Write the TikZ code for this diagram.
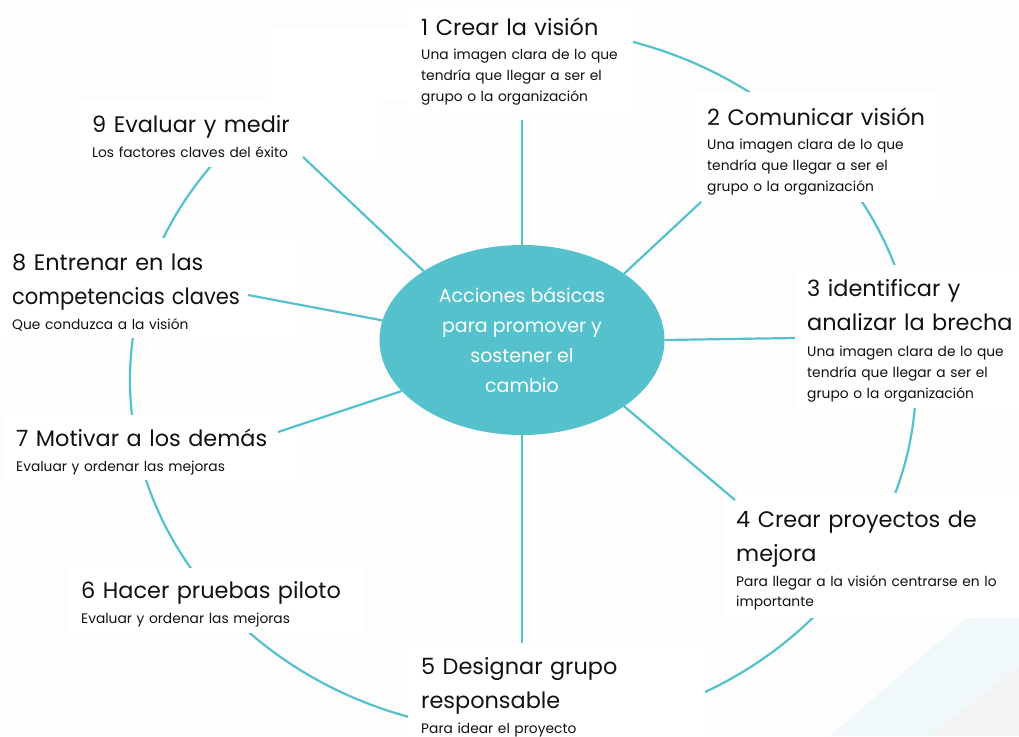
\documentclass[tikz,border=0pt]{standalone}
\usepackage{graphicx}
\usepackage{fontspec}
\setmainfont{Poppins}
\usetikzlibrary{calc,shapes.geometric}

\definecolor{teal1}{HTML}{55C1CC}
\definecolor{paper}{HTML}{FDFDFD}
\definecolor{mist}{HTML}{F0F8FA}
\definecolor{ash}{HTML}{F3F3F3}
\definecolor{ink}{HTML}{111111}

\begin{document}
\begin{tikzpicture}[x=1pt, y=-1pt,
  card/.style={fill=white, draw=none, inner sep=0pt, outer sep=0pt, anchor=north west},
  ring/.style={draw=teal1, line width=2.2pt},
  link/.style={draw=teal1, line width=2.2pt},
  head/.style={anchor=base west, inner sep=0pt, text=ink, text width=320pt, align=left,
               font=\fontsize{22.4}{34}\selectfont},
  note/.style={anchor=base west, inner sep=0pt, text=ink, text width=320pt, align=left,
               font=\fontsize{13.8}{21}\selectfont},
  hub/.style={ellipse, fill=teal1, draw=none, inner sep=0pt, outer sep=0pt,
              minimum width=285pt, minimum height=190pt, text=white, align=center,
              font=\fontsize{19}{30}\selectfont},
]
% page and its background
\useasboundingbox (0,0) rectangle (1019,736);
\fill[paper] (0,0) rectangle (1019,736);
\fill[mist] (830,736) -- (1019,573) -- (1019,736) -- cycle;
\fill[ash] (930,736) -- (1019,667) -- (1019,736) -- cycle;

% outer ring linking the steps
\draw[ring] (523,380) ellipse [x radius=393, y radius=352];

% white cards behind each step
\node[card, minimum width=225pt, minimum height=109pt] (b1) at (408,3) {};
\node[card, minimum width=242pt, minimum height=110pt] (b2) at (695,92) {};
\node[card, minimum width=224pt, minimum height=143pt] (b3) at (795,265) {};
\node[card, minimum width=294pt, minimum height=125pt] (b4) at (725,493) {};
\node[card, minimum width=297pt, minimum height=93pt]  (b5) at (408,643) {};
\node[card, minimum width=297pt, minimum height=65pt]  (b6) at (68,568) {};
\node[card, minimum width=297pt, minimum height=65pt]  (b7) at (5,415) {};
\node[card, minimum width=297pt, minimum height=100pt] (b8) at (0,238) {};
\node[card, minimum width=297pt, minimum height=67pt]  (b9) at (80,100) {};
\fill[white] (270,28) rectangle (408,100);

% central idea
\node[hub] (c) at (522,340) {Acciones básicas\\para promover y\\sostener el\\cambio};

% spokes from the centre to every step
\draw[link] (c.90) -- ($(b1.south)+(1.5,8)$);
\draw[link] (c.33.7) -- ($(b2.south west)+(6,0)$);
\draw[link] (c.0) -- ($(b3.west)+(0,1.5)$);
\draw[link] (c.-33.7) -- ($(b4.north west)+(10,7)$);
\draw[link] (c.-90) -- (c.-90 |- b5.north);
\draw[link] (c.203.5) -- ($(b7.north east)+(-24,17)$);
\draw[link] (c.172) -- ($(b8.east)+(-49,7)$);
\draw[link] (c.145.8) -- ($(b9.south east)+(-74,-10)$);

% step texts
\node[head] (t1) at (421,35) {1 Crear la visión};
\node[note] (d1) at (421,59) {Una imagen clara de lo que\\tendría que llegar a ser el\\grupo o la organización};

\node[head] (t2) at (707,125) {2 Comunicar visión};
\node[note] (d2) at (707,149) {Una imagen clara de lo que\\tendría que llegar a ser el\\grupo o la organización};

\node[head] (t3) at (807,296) {3 identificar y\\analizar la brecha};
\node[note] (d3) at (807,356) {Una imagen clara de lo que\\tendría que llegar a ser el\\grupo o la organización};

\node[head] (t4) at (736,527) {4 Crear proyectos de\\mejora};
\node[note, font=\fontsize{13.8}{20}\selectfont] (d4) at (736,586) {Para llegar a la visión centrarse en lo\\importante};

\node[head] (t5) at (421,674) {5 Designar grupo\\responsable};
\node[note] (d5) at (421,733) {Para idear el proyecto};

\node[head] (t6) at (81,598) {6 Hacer pruebas piloto};
\node[note] (d6) at (81,623) {Evaluar y ordenar las mejoras};

\node[head] (t7) at (16,446) {7 Motivar a los demás};
\node[note] (d7) at (16,471) {Evaluar y ordenar las mejoras};

\node[head] (t8) at (12,270) {8 Entrenar en las\\\scalebox{0.94}[1]{competencias claves}};
\node[note] (d8) at (12,329) {Que conduzca a la visión};

\node[head] (t9) at (92,132) {9 Evaluar y medir};
\node[note] (d9) at (92,157) {Los factores claves del éxito};
\end{tikzpicture}
\end{document}
